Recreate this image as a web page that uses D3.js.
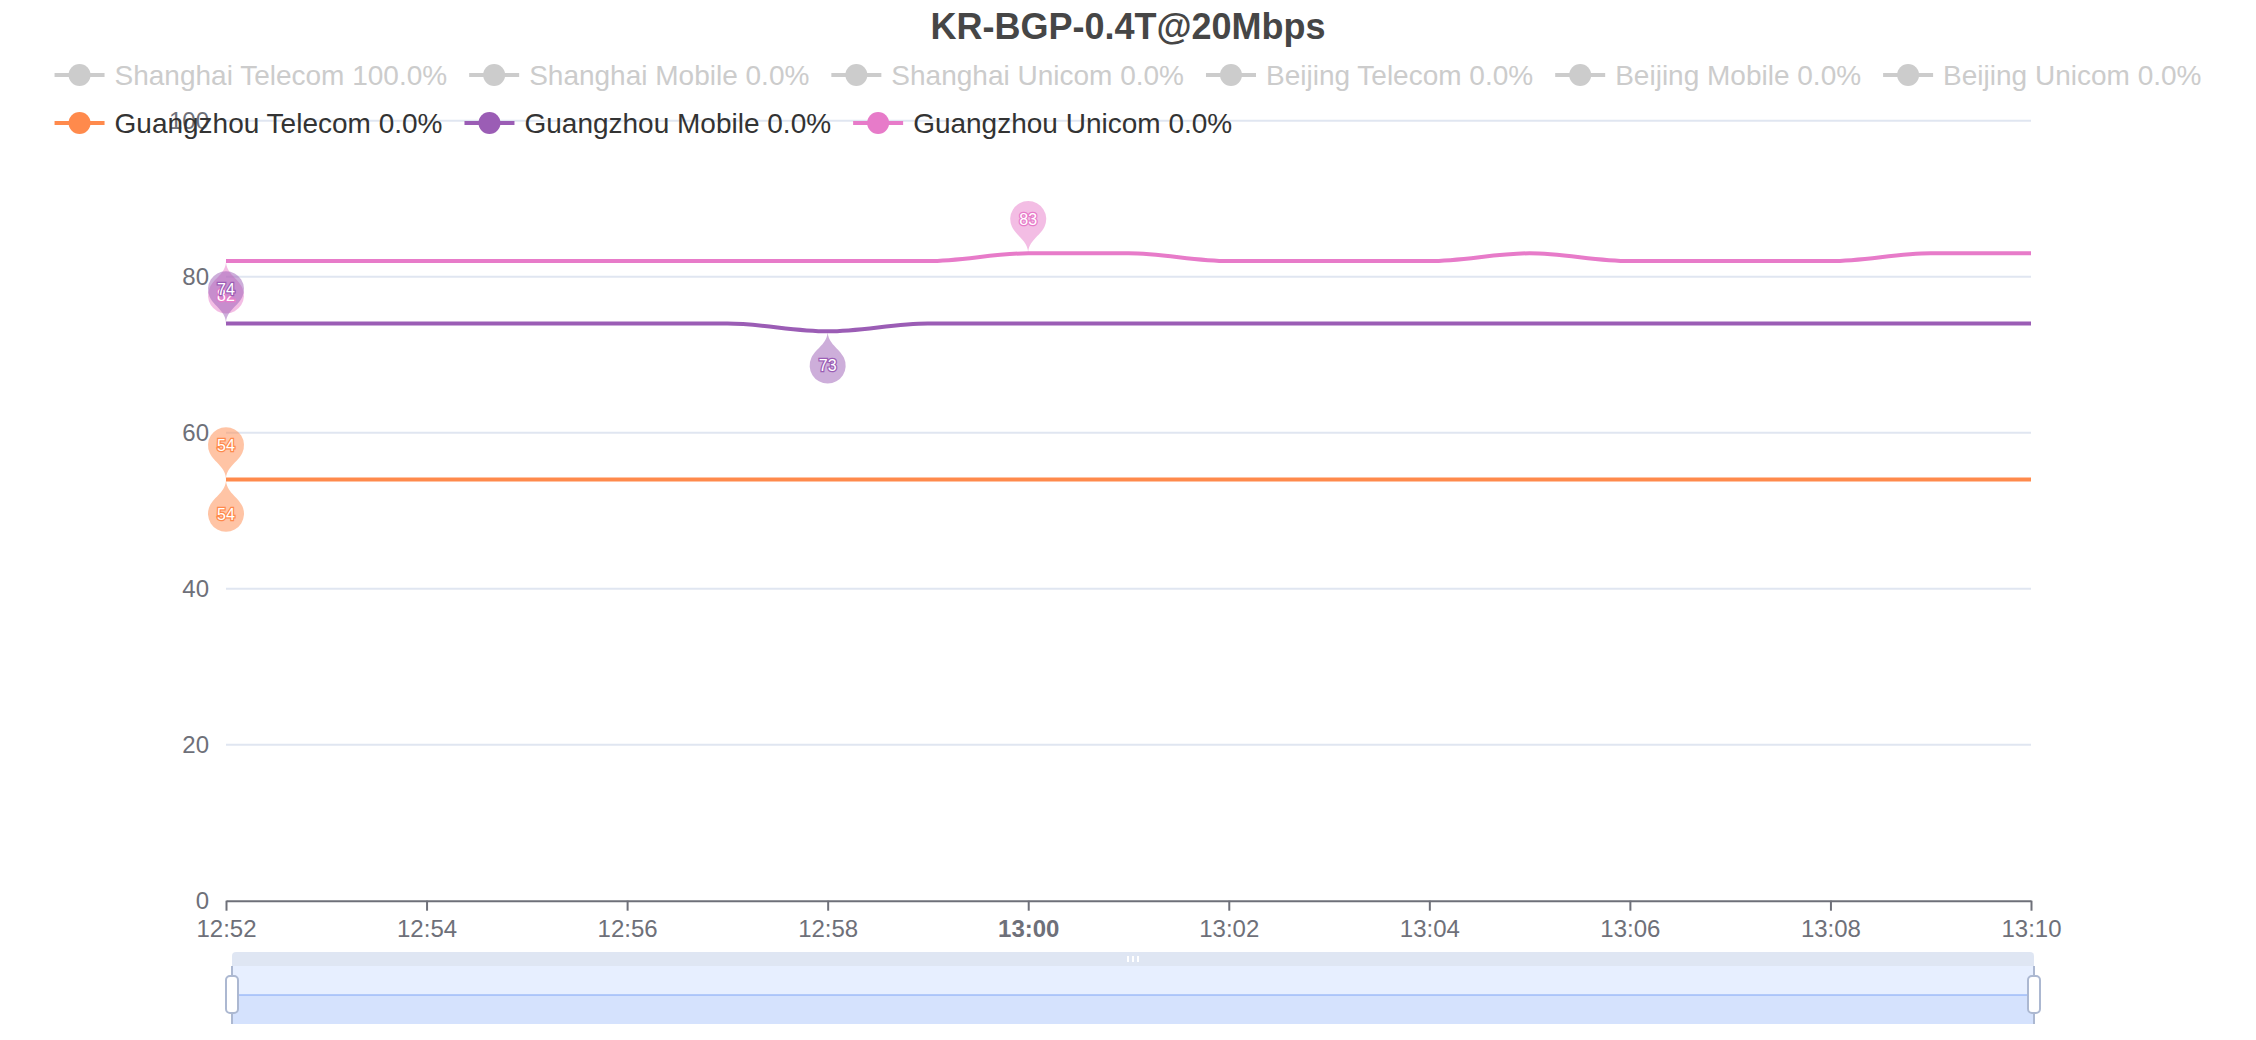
<!DOCTYPE html>
<html>
<head>
<meta charset="utf-8">
<script src="https://cdn.jsdelivr.net/npm/d3@7"></script>
<style>
  html, body { margin: 0; padding: 0; background: #fff; }
  svg { display: block; font-family: "Liberation Sans", Arial, Helvetica, sans-serif; }
</style>
</head>
<body>
<svg id="chart" width="2256" height="1040"></svg>
<script>
// ---------------- DATA ----------------
const chartTitle = "KR-BGP-0.4T@20Mbps";
const times = ["12:52","12:53","12:54","12:55","12:56","12:57","12:58","12:59","13:00","13:01",
               "13:02","13:03","13:04","13:05","13:06","13:07","13:08","13:09","13:10"];
const legendNames = ["Shanghai Telecom","Shanghai Mobile","Shanghai Unicom","Beijing Telecom","Beijing Mobile","Beijing Unicom",
                     "Guangzhou Telecom","Guangzhou Mobile","Guangzhou Unicom"];
const legendPercents = ["100.0%","0.0%","0.0%","0.0%","0.0%","0.0%","0.0%","0.0%","0.0%"];
const legendActive = [false,false,false,false,false,false,true,true,true];
const seriesColors = ["#5470c6","#91cc75","#fac858","#ee6666","#73c0de","#3ba272","#ff8a4c","#9b5db5","#e77bc9"];
const guangzhouTelecom = [54,54,54,54,54,54,54,54,54,54,54,54,54,54,54,54,54,54,54];
const guangzhouMobile  = [74,74,74,74,74,74,73,74,74,74,74,74,74,74,74,74,74,74,74];
const guangzhouUnicom  = [82,82,82,82,82,82,82,82,83,83,82,82,82,83,82,82,82,83,83];
const yTicks = [0,20,40,60,80,100];

// ---------------- LAYOUT ----------------
const W = 2256, H = 1040;
const plot = {left: 226, right: 2031, top: 120.7, bottom: 900.7};
const axisColor = "#6E7079", gridColor = "#E0E6F1";

const svg = d3.select("#chart");
const parseT = d3.timeParse("%Y-%m-%d %H:%M");
const dates = times.map(t => parseT("2024-01-01 " + t));

const x = d3.scaleTime().domain(d3.extent(dates)).range([plot.left, plot.right]);
const y = d3.scaleLinear().domain([0, 100]).range([plot.bottom, plot.top]);

// Title
svg.append("text")
  .attr("x", W / 2).attr("y", 39)
  .attr("text-anchor", "middle")
  .attr("font-size", 36).attr("font-weight", "bold")
  .attr("fill", "#464646")
  .text(chartTitle);

// Grid lines
svg.append("g").selectAll("line").data(yTicks.filter(d => d > 0)).join("line")
  .attr("x1", plot.left).attr("x2", plot.right)
  .attr("y1", d => y(d)).attr("y2", d => y(d))
  .attr("stroke", gridColor).attr("stroke-width", 2);

// Y axis
const yAxis = svg.append("g").attr("transform", `translate(${plot.left},0)`)
  .call(d3.axisLeft(y).tickValues(yTicks).tickSize(0).tickPadding(17));
yAxis.select(".domain").remove();
yAxis.selectAll("text").attr("font-size", 24).attr("fill", axisColor)
  .attr("font-family", "Liberation Sans, Arial, sans-serif");

// X axis
const xAxis = svg.append("g").attr("transform", `translate(0,${plot.bottom})`)
  .call(d3.axisBottom(x).ticks(d3.timeMinute.every(2)).tickFormat(d3.timeFormat("%H:%M"))
        .tickSizeInner(10).tickSizeOuter(0).tickPadding(9));
xAxis.select(".domain").attr("stroke", axisColor).attr("stroke-width", 2);
xAxis.selectAll(".tick line").attr("stroke", axisColor).attr("stroke-width", 2);
xAxis.selectAll("text").attr("font-size", 24).attr("fill", axisColor)
  .attr("font-family", "Liberation Sans, Arial, sans-serif")
  .attr("font-weight", d => d.getMinutes() === 0 ? "bold" : "normal");

// Lines
const series = [
  {name: legendNames[6], color: seriesColors[6], values: guangzhouTelecom},
  {name: legendNames[7], color: seriesColors[7], values: guangzhouMobile},
  {name: legendNames[8], color: seriesColors[8], values: guangzhouUnicom}
];
const line = d3.line().x((d, i) => x(dates[i])).y(d => y(d)).curve(d3.curveMonotoneX);
svg.append("g").selectAll("path").data(series).join("path")
  .attr("d", s => line(s.values))
  .attr("fill", "none").attr("stroke", s => s.color).attr("stroke-width", 4)
  .attr("stroke-linejoin", "round");

// Pins (ECharts-like pin symbol, tip at the data point)
function pinPath(S) {
  const w = S * 0.6, h = S, r = w / 2;
  const dy = r * r / (h - r);
  const cy = -h + r + dy;
  const a = Math.asin(dy / r);
  const dx = Math.cos(a) * r;
  const tanX = Math.sin(a), tanY = Math.cos(a);
  const cp = r * 0.6, cp2 = r * 0.7;
  return {
    d: `M${-dx},${cy + dy} A${r},${r} 0 1 1 ${dx},${cy + dy} ` +
       `C${dx - tanX * cp},${cy + dy + tanY * cp} 0,${-cp2} 0,0 ` +
       `C0,${-cp2} ${-dx + tanX * cp},${cy + dy + tanY * cp} ${-dx},${cy + dy} Z`,
    cy: cy
  };
}
const pin = pinPath(60);
const marks = [];
series.forEach(s => {
  const iMin = d3.minIndex(s.values), iMax = d3.maxIndex(s.values);
  marks.push({type: "min", s, i: iMin, v: s.values[iMin]});
  marks.push({type: "max", s, i: iMax, v: s.values[iMax]});
});
const ordered = marks.filter(m => m.type === "min").concat(marks.filter(m => m.type === "max"));
const pinG = svg.append("g");
pinG.selectAll("path").data(ordered).join("path")
  .attr("d", pin.d)
  .attr("transform", m => `translate(${x(dates[m.i])},${y(m.v)}) rotate(${m.type === "min" ? 180 : 0})`)
  .attr("fill", m => m.s.color).attr("fill-opacity", 0.5);
pinG.selectAll("text").data(ordered).join("text")
  .attr("x", m => x(dates[m.i]))
  .attr("y", m => y(m.v) + (m.type === "min" ? -pin.cy : pin.cy))
  .attr("dy", "0.36em")
  .attr("text-anchor", "middle")
  .attr("font-size", 16)
  .attr("fill", "#fff")
  .attr("stroke", m => m.s.color).attr("stroke-width", 2.5)
  .attr("paint-order", "stroke")
  .text(m => m.v);

// Data zoom slider
const sl = {x0: 232, x1: 2034, top: 952, barBottom: 966, bottom: 1024};
const slG = svg.append("g");
const rr = 4;
slG.append("path")
  .attr("d", `M${sl.x0},${sl.barBottom} V${sl.top + rr} Q${sl.x0},${sl.top} ${sl.x0 + rr},${sl.top} H${sl.x1 - rr} Q${sl.x1},${sl.top} ${sl.x1},${sl.top + rr} V${sl.barBottom} Z`)
  .attr("fill", "#D2DBEE").attr("fill-opacity", 0.7);
slG.append("rect")
  .attr("x", sl.x0).attr("y", sl.barBottom).attr("width", sl.x1 - sl.x0).attr("height", sl.bottom - sl.barBottom)
  .attr("fill", "rgb(135,175,255)").attr("fill-opacity", 0.2);
const sx = d3.scaleTime().domain(d3.extent(dates)).range([sl.x0, sl.x1]);
const sy = d3.scaleLinear().domain(d3.extent(guangzhouTelecom)).range([sl.bottom, sl.barBottom]);
slG.append("path")
  .attr("d", d3.area().x((d, i) => sx(dates[i])).y0(sl.bottom).y1(d => sy(d))(guangzhouTelecom))
  .attr("fill", "#8fb0f7").attr("fill-opacity", 0.2);
slG.append("path")
  .attr("d", d3.line().x((d, i) => sx(dates[i])).y(d => sy(d))(guangzhouTelecom))
  .attr("fill", "none").attr("stroke", "#8fb0f7").attr("stroke-opacity", 0.6).attr("stroke-width", 2);
// move-handle grip
[-5, 0, 5].forEach(off => {
  slG.append("rect").attr("x", (sl.x0 + sl.x1) / 2 + off - 1).attr("y", 956)
    .attr("width", 2).attr("height", 6).attr("fill", "#fff");
});
// handles
[sl.x0, sl.x1].forEach(hx => {
  slG.append("line").attr("x1", hx).attr("x2", hx).attr("y1", sl.barBottom).attr("y2", sl.bottom)
    .attr("stroke", "#ACB8D1").attr("stroke-width", 2);
  slG.append("rect").attr("x", hx - 6).attr("y", 976).attr("width", 12).attr("height", 37)
    .attr("rx", 4).attr("fill", "#fff").attr("stroke", "#ACB8D1").attr("stroke-width", 2);
});

// Legend (drawn last, on top)
const legendFont = 28, iconW = 50, textGap = 10, itemGap = 22, rowH = 48, maxRowW = 2200;
const measure = svg.append("text").attr("font-size", legendFont).attr("visibility", "hidden");
const items = legendNames.map((n, i) => {
  const label = n + " " + legendPercents[i];
  measure.text(label);
  const tw = measure.node().getComputedTextLength();
  return {label, tw, w: iconW + textGap + tw, active: legendActive[i], color: seriesColors[i]};
});
measure.remove();
let cx = 0, row = 0;
const rowWidths = [0];
items.forEach(it => {
  if (cx > 0 && cx + it.w > maxRowW) { row++; cx = 0; rowWidths.push(0); }
  it.x = cx; it.row = row;
  cx += it.w + itemGap;
  rowWidths[row] = cx - itemGap;
});
const boxW = d3.max(rowWidths);
const lx0 = (W - boxW) / 2, ly0 = 75;
const lg = svg.append("g").selectAll("g").data(items).join("g")
  .attr("transform", d => `translate(${lx0 + d.x},${ly0 + d.row * rowH})`);
lg.append("line").attr("x1", 0).attr("x2", iconW).attr("y1", 0).attr("y2", 0)
  .attr("stroke", d => d.active ? d.color : "#ccc").attr("stroke-width", 4);
lg.append("circle").attr("cx", iconW / 2).attr("cy", 0).attr("r", 11)
  .attr("fill", d => d.active ? d.color : "#ccc");
lg.append("text").attr("x", iconW + textGap).attr("y", 10)
  .attr("font-size", legendFont)
  .attr("fill", d => d.active ? "#333" : "#ccc")
  .text(d => d.label);
</script>
</body>
</html>
